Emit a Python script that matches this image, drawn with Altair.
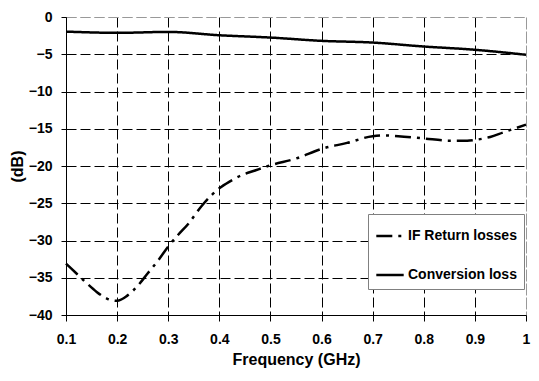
import altair as alt
import pandas as pd

# Conversion loss (dB) vs frequency (GHz)
cl_freq = [0.1, 0.15, 0.2, 0.3, 0.4, 0.5, 0.6, 0.7, 0.8, 0.9, 1.0]
cl_db = [-1.96, -2.07, -2.13, -2.0, -2.45, -2.76, -3.2, -3.43, -3.96, -4.4, -5.07]

# IF return losses (dB) vs frequency (GHz)
rl_freq = [0.10, 0.12, 0.14, 0.16, 0.18, 0.20, 0.22, 0.24, 0.26, 0.28, 0.30,
           0.32, 0.34, 0.365, 0.385, 0.40, 0.42, 0.445, 0.47, 0.50, 0.55, 0.60,
           0.65, 0.70, 0.725, 0.75, 0.80, 0.85, 0.885, 0.90, 0.93, 0.955, 1.00]
rl_db = [-33.1, -34.4, -35.7, -36.9, -37.8, -38.1, -37.4, -36.1, -34.4, -32.7, -30.8,
         -29.2, -27.7, -25.4, -23.9, -23.0, -22.1, -21.2, -20.6, -19.9, -19.0, -17.7,
         -16.9, -16.0, -15.9, -16.0, -16.3, -16.6, -16.6, -16.5, -16.1, -15.5, -14.45]

series_names = ["IF Return losses", "Conversion loss"]
x_ticks = [0.1, 0.2, 0.3, 0.4, 0.5, 0.6, 0.7, 0.8, 0.9, 1.0]
y_ticks = [-40, -35, -30, -25, -20, -15, -10, -5, 0]

df = pd.concat([
    pd.DataFrame({"f": rl_freq, "db": rl_db, "series": series_names[0]}),
    pd.DataFrame({"f": cl_freq, "db": cl_db, "series": series_names[1]}),
])

FONT = "Liberation Sans"

chart = alt.Chart(df).mark_line(
    interpolate="monotone", strokeWidth=2.5, color="black"
).encode(
    x=alt.X("f:Q", scale=alt.Scale(domain=[0.1, 1.0], nice=False, zero=False),
            axis=alt.Axis(values=x_ticks, title="Frequency (GHz)",
                          labelExpr="datum.value >= 0.999 ? '1' : format(datum.value, '.1f')",
                          labelFlush=False,
                          tickSize=6, labelPadding=11, titlePadding=5,
                          titleFontSize=16, labelFontSize=14,
                          gridColor={"condition": {"test": "datum.value >= 0.999", "value": "#999999"}, "value": "black"})),
    y=alt.Y("db:Q", scale=alt.Scale(domain=[-40, 0], nice=False),
            axis=alt.Axis(values=y_ticks, title="(dB)", tickSize=5, labelPadding=9,
                          titlePadding=3, titleFontSize=16, labelFontSize=14,
                          gridColor={"condition": {"test": "datum.value == 0", "value": "#999999"}, "value": "black"})),
    strokeDash=alt.StrokeDash("series:N",
                              scale=alt.Scale(domain=series_names, range=[[16, 6, 3, 6], [1, 0]]),
                              legend=alt.Legend(title=None, orient="none", legendX=302, legendY=197,
                                                symbolType="stroke", symbolSize=750,
                                                symbolStrokeWidth=2.5, symbolStrokeColor="black",
                                                labelFontSize=14, labelFontWeight="bold", labelFont=FONT,
                                                labelOffset=3, padding=7, rowPadding=17,
                                                strokeColor="#808080", fillColor="white",
                                                labelLimit=300)),
).properties(
    width=460, height=298,
    autosize=alt.AutoSizeParams(type="none"),
    padding={"left": 58, "top": 9, "right": 5, "bottom": 53},
).configure(font=FONT).configure_axis(
    labelFont=FONT, titleFont=FONT, labelFontWeight="bold", titleFontWeight="bold",
    labelColor="black", titleColor="black", domainColor="black", domainWidth=1,
    tickColor="black", gridDash=[10, 4], gridWidth=1, gridOpacity=1,
).configure_view(stroke="#999999", strokeDash=[10, 4])

chart.save("out.html", embed_options={"renderer": "svg", "actions": False})
